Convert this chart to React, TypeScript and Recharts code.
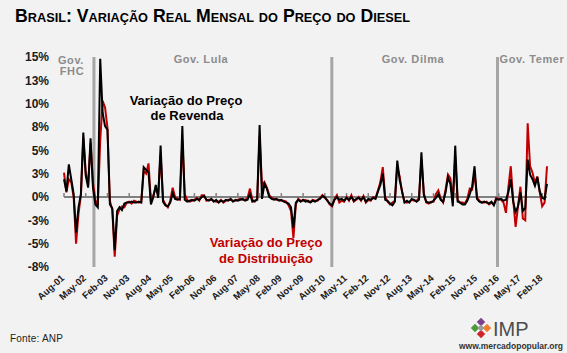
import React from 'react';
import { LineChart, Line, XAxis, YAxis, ReferenceLine } from 'recharts';

// Monthly real variation (%) – resale price (black) and distribution price (red), Aug-01 .. Apr-18
const revenda = [
  1.9, 0.6, 3.5, 1.9, 0.3, -3.8, -1.1, 0.3, 6.9, 2.3,
  1.0, 6.3, 1.0, -0.8, -1.1, 14.8, 9.0, 7.6, 7.2, -0.8,
  -1.2, -5.7, -1.5, -1.1, -1.4, -0.7, -0.6, -0.6, -0.5, -0.6,
  -0.6, -0.5, -0.6, 3.2, 2.9, 2.6, -0.8, 0.0, 1.3, -0.1,
  5.5, -0.5, -0.9, -1.0, -0.6, 0.4, -0.2, -0.3, -0.2, 7.6,
  -0.3, -0.5, -0.4, -0.3, -0.4, -0.2, -0.3, 0.0, 0.1, -0.3,
  -0.4, -0.2, -0.5, -0.3, -0.6, -0.4, -0.5, -0.3, -0.4, -0.2,
  -0.5, -0.3, -0.4, -0.3, -0.2, -0.4, -0.3, 0.3, -0.5, -0.4,
  -0.3, 7.7, -0.2, 1.4, 0.9, 0.0, -0.2, -0.3, -0.2, -0.4,
  -0.3, -0.5, -0.6, -0.7, -1.1, -3.3, -0.6, -0.3, -0.5, -0.3,
  -0.5, -0.4, -0.6, -0.4, -0.5, -0.3, -0.2, 0.1, 0.0, -0.4,
  -0.7, -0.9, -0.3, 0.0, -0.3, -0.2, -0.4, -0.1, -0.3, 0.0,
  -0.4, -0.2, -0.1, -0.3, 0.0, -0.5, -0.2, -0.3, -0.1, -0.2,
  0.6, 1.3, 2.5, -0.3, -0.4, -0.7, -0.9, -0.5, 3.9, 1.8,
  0.6, -0.6, -0.4, -0.6, -0.2, -0.3, -0.5, -0.3, 4.8, 0.2,
  -0.5, -0.6, -0.6, -0.4, -0.1, 0.3, -0.3, -0.5, 0.5, 2.1,
  1.4, -1.0, 5.5, -0.5, -0.6, -0.8, -0.8, -0.4, 0.3, 1.1,
  3.3, -0.2, -0.5, -0.6, -0.5, -0.6, -0.7, -0.5, -0.9, -0.2,
  -0.3, -0.2, -0.4, -0.3, 0.5, 1.9, -0.5, -1.6, -1.0, 0.5,
  -1.5, -1.2, 4.0, 2.4, 1.9, 1.2, 2.1, 0.6, -0.1, -0.2,
  1.4,
];

const distribuicao = [
  2.6, 0.5, 1.9, 1.6, 0.0, -5.0, -1.8, 0.2, 6.3, 2.6,
  1.3, 5.8, 1.5, -0.3, -0.9, 6.0, 10.3, 9.6, 7.4, -0.4,
  -1.4, -6.4, -2.0, -1.3, -1.0, -1.1, -0.6, -0.5, -0.7, -0.4,
  -0.5, -0.6, -0.5, 2.8, 2.5, 3.6, -0.5, 0.2, 1.0, 0.2,
  4.5, -0.3, -0.8, -1.1, -0.4, 1.0, 0.0, -0.2, -0.3, 6.0,
  0.3, -0.3, -0.5, -0.4, -0.3, -0.1, -0.4, 0.2, 0.2, -0.4,
  -0.3, -0.3, -0.4, -0.5, -0.5, -0.3, -0.6, -0.4, -0.3, -0.3,
  -0.4, -0.4, -0.3, -0.2, -0.3, -0.3, -0.1, 0.9, -0.3, -0.5,
  -0.2, 6.5, 1.2, 1.6, 1.0, 0.2, -0.1, -0.2, -0.3, -0.3,
  -0.4, -0.4, -0.5, -0.9, -1.5, -4.4, -0.8, -0.2, -0.4, -0.4,
  -0.3, -0.5, -0.5, -0.3, -0.4, -0.4, -0.1, 0.2, -0.1, -0.3,
  -0.8, -1.0, -0.2, 0.2, -0.6, -0.4, -0.5, 0.0, -0.4, 0.2,
  -0.5, -0.3, 0.0, -0.4, 0.1, -0.6, -0.3, -0.4, 0.0, -0.1,
  0.7, 1.6, 3.2, 0.0, -0.5, -0.8, -0.6, -0.4, 3.2, 2.2,
  0.5, -0.5, -0.6, -0.5, -0.3, -0.4, -0.4, -0.1, 4.0, 0.4,
  -0.6, -0.7, -0.5, -0.5, 0.3, 0.7, -0.2, -0.6, 0.8, 2.4,
  2.0, -0.3, 4.3, -0.3, -0.6, -0.6, -0.7, -0.2, 0.9, 0.8,
  2.5, 0.0, -0.4, -0.6, -0.6, -0.5, -0.8, -0.6, -0.8, -0.1,
  -0.2, -0.3, -0.6, -1.7, 1.0, 3.3, -0.3, -3.2, -1.0, 1.1,
  -2.3, -2.5, 7.9, 3.3, 2.6, 1.5, 2.2, 0.5, -1.0, -0.6,
  3.3,
];

const monthAbbr = ['Jan', 'Feb', 'Mar', 'Apr', 'May', 'Jun', 'Jul', 'Aug', 'Sep', 'Oct', 'Nov', 'Dec'];
const months = revenda.map((_, k) => {
  const m = 7 + k;
  const yy = (2001 + Math.floor(m / 12)) % 100;
  return `${monthAbbr[m % 12]}-${String(yy).padStart(2, '0')}`;
});

const xTickLabels = [
  'Aug-01', 'May-02', 'Feb-03', 'Nov-03', 'Aug-04', 'May-05', 'Feb-06', 'Nov-06',
  'Aug-07', 'May-08', 'Feb-09', 'Nov-09', 'Aug-10', 'May-11', 'Feb-12', 'Nov-12',
  'Aug-13', 'May-14', 'Feb-15', 'Nov-15', 'Aug-16', 'May-17', 'Feb-18',
];
const xTicks = xTickLabels.map((l) => months.indexOf(l));

const yTicks = [-7.5, -5, -2.5, 0, 2.5, 5, 7.5, 10, 12.5, 15];
const yTickLabels = ['-8%', '-5%', '-3%', '0%', '3%', '5%', '8%', '10%', '13%', '15%'];

// government boundaries (month index as drawn)
const govBoundaries = [12.4, 110.9, 179.5];

const data = revenda.map((v, i) => ({ i, month: months[i], rev: v, dist: distribuicao[i] }));

const FONT = '"Liberation Sans", Arial, Helvetica, sans-serif';

const XTick = (props: any) => {
  const { x, y, payload } = props;
  return (
    <text
      transform={`translate(${x + 1},${y + 12}) rotate(-42)`}
      textAnchor="end"
      fontSize={9.5}
      fontWeight="bold"
      fill="#1a1a1a"
      fontFamily={FONT}
    >
      {months[payload.value]}
    </text>
  );
};

const YTick = (props: any) => {
  const { x, y, payload } = props;
  return (
    <text x={x} y={y} dy={4.3} textAnchor="end" fontSize={12} fontWeight="bold" fill="#1a1a1a" fontFamily={FONT}>
      {yTickLabels[yTicks.indexOf(payload.value)]}
    </text>
  );
};

export default function App() {
  return (
    <div
      style={{
        position: 'absolute',
        left: 0,
        top: 0,
        width: 567,
        height: 353,
        background: '#f2f2f2',
        overflow: 'hidden',
        fontFamily: FONT,
      }}
    >
      <LineChart width={567} height={353} data={data} margin={{ top: 57, right: 20, left: 8, bottom: 46 }}>
        <XAxis
          type="number"
          dataKey="i"
          domain={[0, 200]}
          ticks={xTicks}
          interval={0}
          axisLine={false}
          tickLine={false}
          tickSize={0}
          tickMargin={0}
          height={40}
          tick={XTick}
        />
        <YAxis
          type="number"
          domain={[-7.5, 15]}
          ticks={yTicks}
          interval={0}
          axisLine={false}
          tickLine={false}
          tickSize={0}
          tickMargin={15}
          width={56}
          tick={YTick}
        />
        {govBoundaries.map((g) => (
          <ReferenceLine key={`gov-${g}`} x={g} stroke="#a6a6a6" strokeWidth={3} />
        ))}
        <ReferenceLine y={0} stroke="#808080" strokeWidth={2} />
        {xTicks.map((t) => (
          <ReferenceLine
            key={`tk-${t}`}
            segment={[
              { x: t, y: 0 },
              { x: t, y: 0.42 },
            ]}
            stroke="#808080"
            strokeWidth={1.5}
          />
        ))}
        <Line
          type="linear"
          dataKey="dist"
          stroke="#c00000"
          strokeWidth={2}
          dot={false}
          isAnimationActive={false}
        />
        <Line
          type="linear"
          dataKey="rev"
          stroke="#000000"
          strokeWidth={2}
          dot={false}
          isAnimationActive={false}
        />
      </LineChart>

      <svg
        width={567}
        height={353}
        style={{ position: 'absolute', left: 0, top: 0, pointerEvents: 'none' }}
        fontFamily={FONT}
      >
        <text
          x={15}
          y={22}
          fontSize={18}
          fontWeight="bold"
          fill="#000"
          style={{ fontVariant: 'small-caps' }}
          textLength={395}
          lengthAdjust="spacingAndGlyphs"
        >
          Brasil: Variação Real Mensal do Preço do Diesel
        </text>

        <g fontSize={11} fontWeight="bold" fill="#8c8c8c" letterSpacing={0.6} textAnchor="middle">
          <text x={71} y={64}>Gov.</text>
          <text x={72} y={75}>FHC</text>
          <text x={201} y={63}>Gov. Lula</text>
          <text x={413} y={63}>Gov. Dilma</text>
          <text x={532} y={63}>Gov. Temer</text>
        </g>

        <g fontSize={13} fontWeight="bold" fill="#000" textAnchor="middle">
          <text x={186} y={105}>Variação do Preço</text>
          <text x={187} y={120}>de Revenda</text>
        </g>
        <g fontSize={13} fontWeight="bold" fill="#c00000" textAnchor="middle">
          <text x={266} y={247}>Variação do Preço</text>
          <text x={266} y={263}>de Distribuição</text>
        </g>

        <text x={10} y={342} fontSize={10} fill="#222" letterSpacing={0.2}>
          Fonte: ANP
        </text>

        <g>
          <rect x={478} y={319} width={6} height={6} fill="#7b3f8c" transform="rotate(45 481 322)" />
          <rect x={472} y={325} width={6} height={6} fill="#4e9a3b" transform="rotate(45 475 328)" />
          <rect x={484} y={325} width={6} height={6} fill="#f07d2a" transform="rotate(45 487 328)" />
          <rect x={478} y={331} width={6} height={6} fill="#d0232a" transform="rotate(45 481 334)" />
          <rect x={478.5} y={325.5} width={5} height={5} fill="#9a9a9a" transform="rotate(45 481 328)" />
        </g>
        <text x={493} y={336} fontSize={20} fill="#4d4d4d">
          IMP
        </text>
        <text x={563} y={349} fontSize={8.5} fontWeight="bold" fill="#333" textAnchor="end">
          www.mercadopopular.org
        </text>
      </svg>
    </div>
  );
}
